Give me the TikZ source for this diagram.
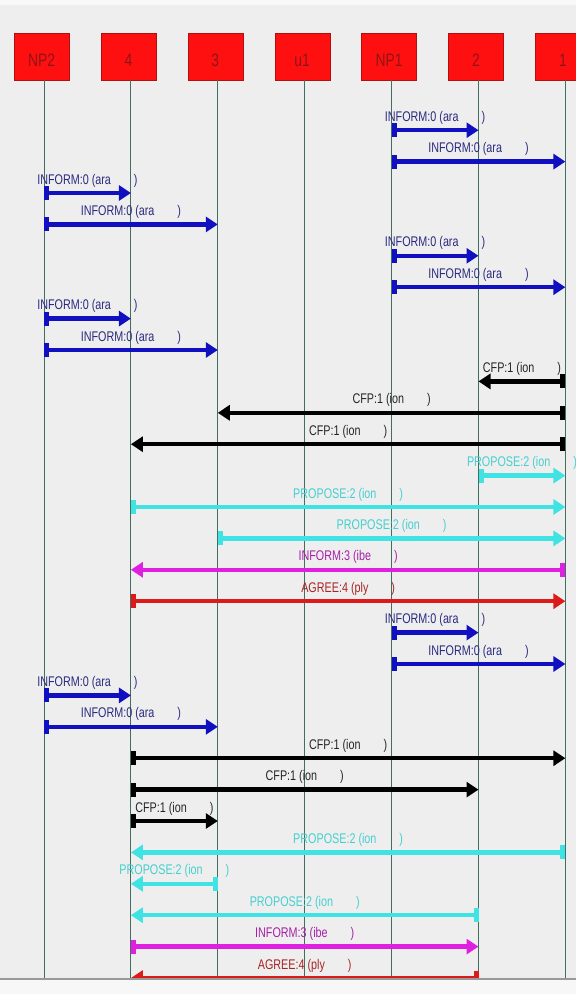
\documentclass[tikz,border=0pt]{standalone}
\usepackage{fontspec}
\newfontfamily\narrowsf[FakeStretch=0.77]{Liberation Sans}
\usetikzlibrary{arrows.meta, positioning}

\definecolor{canvas}{HTML}{EEEEEE}
\definecolor{lifegreen}{HTML}{426E60}
\definecolor{boxred}{HTML}{FF1010}
\definecolor{boxedge}{HTML}{B01010}
\definecolor{boxtxt}{HTML}{8E1515}
\definecolor{infblue}{HTML}{1010C0}
\definecolor{inftxt}{HTML}{2A2A80}
\definecolor{propcyan}{HTML}{3FE3E3}
\definecolor{proptxt}{HTML}{45CFCF}
\definecolor{notemag}{HTML}{E020E0}
\definecolor{notetxt}{HTML}{A820A8}
\definecolor{agrred}{HTML}{DD1A1A}
\definecolor{agrtxt}{HTML}{A82424}

\newcommand{\gap}{\hspace{23pt}}
% one message: row, from, to, style, label
\newcommand{\msg}[5]{%
  \coordinate (m#1s) at ([yshift={-(18.6+31.4*#1)}]#2);
  \coordinate (m#1e) at ([yshift={-(18.6+31.4*#1)}]#3);
  \draw[#4] (m#1s) -- node[lbl] {#5} (m#1e);}

\begin{document}
\begin{tikzpicture}[
  x=1pt, y=-1pt,
  node distance=31.5pt,
  head/.style={rectangle, draw=boxedge, fill=boxred, minimum width=55pt,
               minimum height=47pt, inner sep=0pt, text=boxtxt,
               text height=19pt, text depth=0pt,
               font=\narrowsf\fontsize{18}{20}\selectfont},
  life/.style={draw=lifegreen, line width=0.9pt},
  lbl/.style={anchor=base, yshift=9pt, inner sep=0pt,
              font=\narrowsf\fontsize{14}{16}\selectfont},
  msgarr/.style={line width=4.5pt,
                 {Rectangle[length=5pt,width=14pt]}-{Triangle[length=12pt,width=15pt]}},
  informmsg/.style={msgarr, draw=infblue, fill=infblue, text=inftxt},
  cfpmsg/.style={msgarr, draw=black, fill=black, text=black!85},
  proposemsg/.style={msgarr, draw=propcyan, fill=propcyan, text=proptxt},
  notemsg/.style={msgarr, draw=notemag, fill=notemag, text=notetxt},
  agreemsg/.style={msgarr, draw=agrred, fill=agrred, text=agrtxt}
]

\useasboundingbox (0,0) rectangle (576,994);
\clip (0,0) rectangle (576,994);
\fill[canvas] (0,0) rectangle (576,994);
\fill[white!60!canvas] (0,0) rectangle (576,5);

% agents
\node[head] (hnp2) at (41.5,56.5) {NP2};
\node[head, right=of hnp2] (h4)   {4};
\node[head, right=of h4]   (h3)   {3};
\node[head, right=of h3]   (hu1)  {u1};
\node[head, right=of hu1]  (hnp1) {NP1};
\node[head, right=of hnp1] (h2)   {2};
\node[head, right=of h2]   (h1)   {1};

\coordinate (np2) at ([xshift=2.5pt]hnp2.south);
\coordinate (n4)  at ([xshift=2.5pt]h4.south);
\coordinate (n3)  at ([xshift=2.5pt]h3.south);
\coordinate (u1)  at ([xshift=2.5pt]hu1.south);
\coordinate (np1) at ([xshift=2.5pt]hnp1.south);
\coordinate (n2)  at ([xshift=2.5pt]h2.south);
\coordinate (n1)  at ([xshift=2.5pt]h1.south);
\coordinate (bot) at (0,979);

% lifelines
\foreach \l in {np2, n4, n3, u1, np1, n2, n1}
  \draw[life] (\l) -- (\l |- bot);

% messages
\msg{1}{np1}{n2}{informmsg}{INFORM:0 (ara\gap)}
\msg{2}{np1}{n1}{informmsg}{INFORM:0 (ara\gap)}
\msg{3}{np2}{n4}{informmsg}{INFORM:0 (ara\gap)}
\msg{4}{np2}{n3}{informmsg}{INFORM:0 (ara\gap)}
\msg{5}{np1}{n2}{informmsg}{INFORM:0 (ara\gap)}
\msg{6}{np1}{n1}{informmsg}{INFORM:0 (ara\gap)}
\msg{7}{np2}{n4}{informmsg}{INFORM:0 (ara\gap)}
\msg{8}{np2}{n3}{informmsg}{INFORM:0 (ara\gap)}
\msg{9}{n1}{n2}{cfpmsg}{CFP:1 (ion\gap)}
\msg{10}{n1}{n3}{cfpmsg}{CFP:1 (ion\gap)}
\msg{11}{n1}{n4}{cfpmsg}{CFP:1 (ion\gap)}
\msg{12}{n2}{n1}{proposemsg}{PROPOSE:2 (ion\gap)}
\msg{13}{n4}{n1}{proposemsg}{PROPOSE:2 (ion\gap)}
\msg{14}{n3}{n1}{proposemsg}{PROPOSE:2 (ion\gap)}
\msg{15}{n1}{n4}{notemsg}{INFORM:3 (ibe\gap)}
\msg{16}{n4}{n1}{agreemsg}{AGREE:4 (ply\gap)}
\msg{17}{np1}{n2}{informmsg}{INFORM:0 (ara\gap)}
\msg{18}{np1}{n1}{informmsg}{INFORM:0 (ara\gap)}
\msg{19}{np2}{n4}{informmsg}{INFORM:0 (ara\gap)}
\msg{20}{np2}{n3}{informmsg}{INFORM:0 (ara\gap)}
\msg{21}{n4}{n1}{cfpmsg}{CFP:1 (ion\gap)}
\msg{22}{n4}{n2}{cfpmsg}{CFP:1 (ion\gap)}
\msg{23}{n4}{n3}{cfpmsg}{CFP:1 (ion\gap)}
\msg{24}{n1}{n4}{proposemsg}{PROPOSE:2 (ion\gap)}
\msg{25}{n3}{n4}{proposemsg}{PROPOSE:2 (ion\gap)}
\msg{26}{n2}{n4}{proposemsg}{PROPOSE:2 (ion\gap)}
\msg{27}{n4}{n2}{notemsg}{INFORM:3 (ibe\gap)}
\msg{28}{n2}{n4}{agreemsg}{AGREE:4 (ply\gap)}

% bottom edge of the panel
\fill[white!50!canvas] (0,979) rectangle (576,994);
\draw[gray!80, line width=1.5pt] (0,979) -- (576,979);

\end{tikzpicture}
\end{document}
